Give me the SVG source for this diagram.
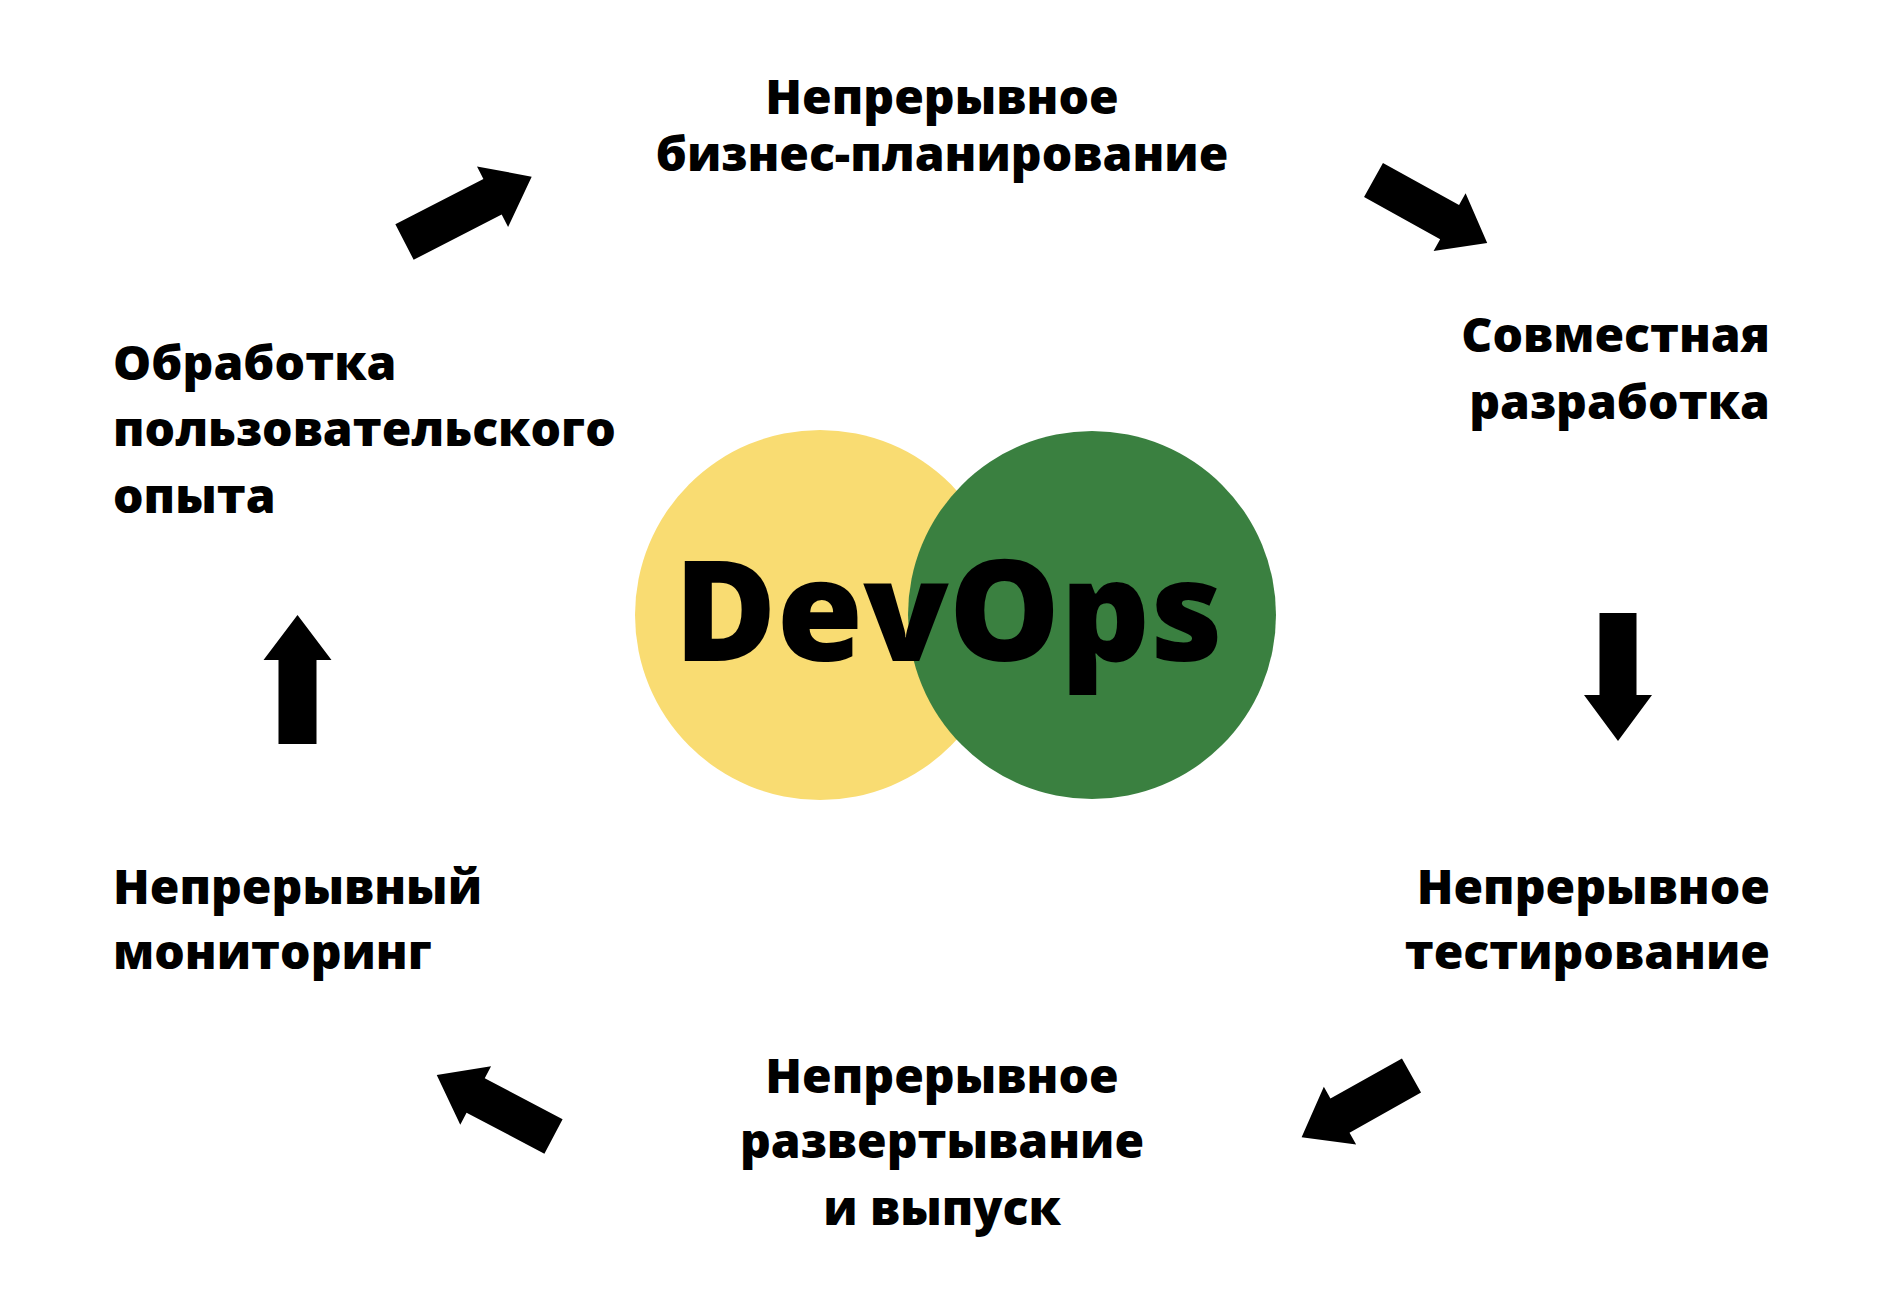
<svg xmlns="http://www.w3.org/2000/svg" width="1892" height="1298" viewBox="0 0 1892 1298">
<defs>
<style>
.lbl{font-family:"Open Sans","Noto Sans","DejaVu Sans",sans-serif;font-weight:800;font-size:48px;fill:#000}
.title{font-family:"Open Sans","Noto Sans","DejaVu Sans",sans-serif;font-weight:800;font-size:140px;fill:#000}
.arr{fill:#000}
</style>
</defs>
<rect width="1892" height="1298" fill="#fff"/>
<g id="devops">
<circle cx="820" cy="615" r="185" fill="#F9DC72"/>
<circle cx="1092" cy="615" r="184" fill="#3A8040"/>
<text class="title" x="674" y="661">DevOps</text>
</g>
<g id="node-planning">
<text class="lbl" x="942" y="114" text-anchor="middle">Непрерывное</text>
<text class="lbl" x="942" y="171" text-anchor="middle">бизнес-планирование</text>
</g>
<g id="node-development">
<text class="lbl" x="1770" y="352" text-anchor="end">Совместная</text>
<text class="lbl" x="1770" y="419" text-anchor="end">разработка</text>
</g>
<g id="node-testing">
<text class="lbl" x="1770" y="904" text-anchor="end">Непрерывное</text>
<text class="lbl" x="1770" y="969" text-anchor="end">тестирование</text>
</g>
<g id="node-deployment">
<text class="lbl" x="942" y="1093" text-anchor="middle">Непрерывное</text>
<text class="lbl" x="942" y="1158" text-anchor="middle">развертывание</text>
<text class="lbl" x="942" y="1225" text-anchor="middle">и выпуск</text>
</g>
<g id="node-monitoring">
<text class="lbl" x="113" y="904">Непрерывный</text>
<text class="lbl" x="113" y="969">мониторинг</text>
</g>
<g id="node-feedback">
<text class="lbl" x="113" y="380">Обработка</text>
<text class="lbl" x="113" y="446">пользовательского</text>
<text class="lbl" x="113" y="513">опыта</text>
</g>
<g id="connectors">
<polygon class="arr" transform="translate(404.5,242) rotate(-27.2)" points="0,-20 99,-20 99,-34 143,0 99,34 99,20 0,20"/>
<polygon class="arr" transform="translate(1373.5,180) rotate(29)" points="0,-19.5 87,-19.5 87,-33 130,0 87,33 87,19.5 0,19.5"/>
<polygon class="arr" transform="translate(1618,613) rotate(90)" points="0,-18.5 82,-18.5 82,-34 128,0 82,34 82,18.5 0,18.5"/>
<polygon class="arr" transform="translate(1411.5,1075.5) rotate(150.7)" points="0,-19.5 82,-19.5 82,-33 126,0 82,33 82,19.5 0,19.5"/>
<polygon class="arr" transform="translate(553.5,1136.5) rotate(207.8)" points="0,-19.5 88,-19.5 88,-33 132,0 88,33 88,19.5 0,19.5"/>
<polygon class="arr" transform="translate(297.5,744) rotate(-90)" points="0,-19 84,-19 84,-34 129,0 84,34 84,19 0,19"/>
</g>
</svg>
